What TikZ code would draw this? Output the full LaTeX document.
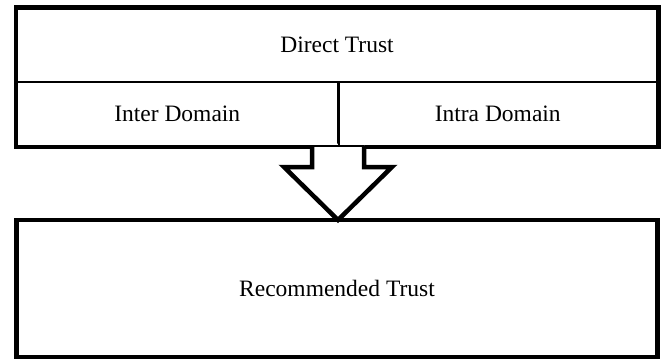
\documentclass[tikz,border=0pt]{standalone}
\usepackage{fontspec}
\setmainfont{Liberation Serif}
\begin{document}
\begin{tikzpicture}[x=1pt,y=-1pt,
  txt/.style={inner sep=0pt, font=\fontsize{23.5}{28}\selectfont},
  cell/.style={txt, draw, line width=1.5pt},
  frame/.style={draw, line width=4.5pt, line join=miter},
  bigarrow/.style={draw, line width=4.5pt, line join=miter, fill=white}]
\useasboundingbox (0,0) rectangle (664,360);
% top cells
\node[cell, minimum width=641pt, minimum height=74pt] (direct) at (337,45) {Direct Trust};
\node[cell, minimum width=321.5pt, minimum height=64pt] (inter) at (177.25,114) {Inter Domain};
\node[cell, minimum width=319.5pt, minimum height=64pt] (intra) at (497.75,114) {Intra Domain};
\draw[frame] (direct.north west) rectangle (intra.south east);
% bottom box
\node[txt, frame, minimum width=641pt, minimum height=137pt] (rec) at (337,288.5) {Recommended Trust};
% hollow arrow
\coordinate (tip) at (338,220);
\fill[white] (312,143.5) -- (312,167) -- (284,167) -- (tip) -- (392,167) -- (364,167) -- (364,143.5) -- cycle;
\draw[line width=1.5pt] (312,146) -- (364,146);
\draw[line width=1.5pt] (inter.north east) -- (inter.south east);
\draw[frame] (312,146) -- (312,167) -- (284,167) -- (tip) -- (392,167) -- (364,167) -- (364,146);
\end{tikzpicture}
\end{document}
